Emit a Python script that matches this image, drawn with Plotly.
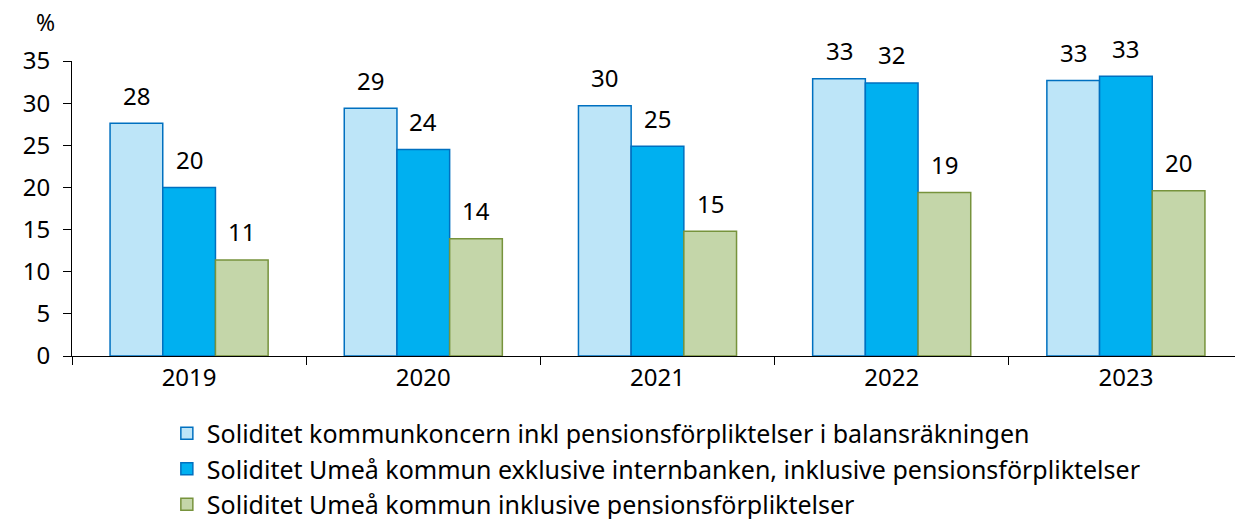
import plotly.graph_objects as go

years = ["2019", "2020", "2021", "2022", "2023"]
series_names = [
    "Soliditet kommunkoncern inkl pensionsförpliktelser i balansräkningen",
    "Soliditet Umeå kommun exklusive internbanken, inklusive pensionsförpliktelser",
    "Soliditet Umeå kommun inklusive pensionsförpliktelser",
]
koncern = [27.6, 29.4, 29.7, 32.9, 32.7]
kommun_exkl = [20.0, 24.5, 24.9, 32.4, 33.2]
kommun_inkl = [11.4, 13.9, 14.8, 19.4, 19.6]
y_ticks = [0, 5, 10, 15, 20, 25, 30, 35]

fills = ["#BDE5F8", "#00B0F0", "#C4D6A9"]
outlines = ["#0070C0", "#0070C0", "#77933C"]
FONT = "Noto Sans"

fig = go.Figure()
all_series = [koncern, kommun_exkl, kommun_inkl]
for i, vals in enumerate(all_series):
    fig.add_trace(go.Bar(
        x=years, y=vals, name=series_names[i],
        marker=dict(color=fills[i], line=dict(color=outlines[i], width=1.5)),
    ))

# page body has an 8px margin, so the figure is a bit smaller than the window
W, H, L, R = 1235, 511, 64, 0
cat_px = (W - L - R) / len(years)
bargap = 0.325
bar_px = cat_px * (1 - bargap) / 3
# value labels above bars (rounded), shifted to each bar in the group
for i, vals in enumerate(all_series):
    for j, v in enumerate(vals):
        # category axis: use the category index so "2019" isn't read as a number
        fig.add_annotation(
            x=j, y=v, text=str(round(v)), showarrow=False,
            xshift=(i - 1) * bar_px, yshift=28,
            font=dict(size=24, color="black", family=FONT),
        )

fig.add_annotation(x=-0.023, xref="paper", y=1.07, yref="paper", text="%",
                   showarrow=False, xanchor="center", yanchor="bottom",
                   font=dict(size=23, color="black", family=FONT))

fig.update_layout(
    width=W, height=H,
    margin=dict(l=L, r=R, t=53, b=163, autoexpand=False),
    plot_bgcolor="white", paper_bgcolor="white",
    barmode="group", bargap=bargap, bargroupgap=0,
    font=dict(family=FONT, size=24, color="black"),
    showlegend=True,
    legend=dict(
        orientation="v", x=0.081, y=-0.185, xanchor="left", yanchor="top",
        font=dict(size=25, family=FONT), tracegroupgap=0, itemwidth=30,
    ),
    xaxis=dict(
        type="category", showline=True, linecolor="black", linewidth=1,
        ticks="outside", tickson="boundaries", ticklen=8, tickcolor="black",
        tickfont=dict(size=24), showgrid=False, tickangle=0, automargin=False,
    ),
    yaxis=dict(
        range=[0, 35], tickvals=y_ticks, showline=True, linecolor="black",
        linewidth=1, ticks="outside", ticklen=8, tickcolor="black",
        tickfont=dict(size=24), showgrid=False, zeroline=False,
        automargin=False, ticklabelstandoff=8,
    ),
)

fig.write_html("out.html")
